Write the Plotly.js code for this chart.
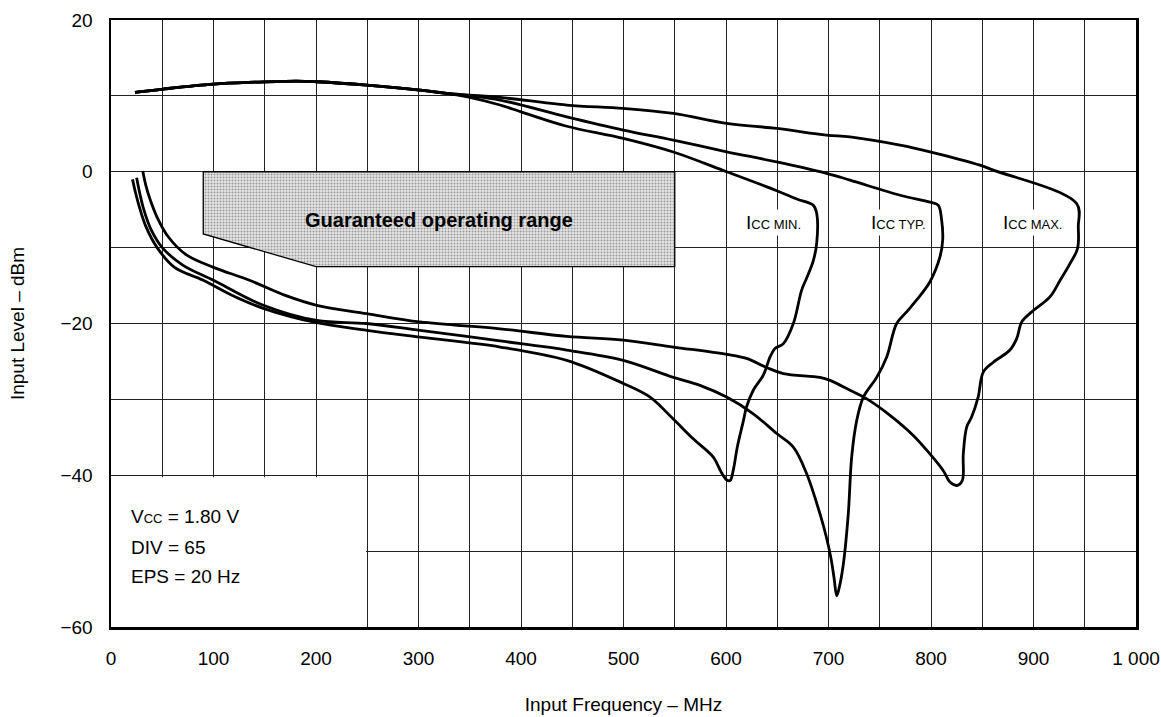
<!DOCTYPE html>
<html>
<head>
<meta charset="utf-8">
<script src="https://cdn.plot.ly/plotly-3.0.1.min.js"></script>
<style>html,body{margin:0;padding:0;background:#fff;}#chart{width:1161px;height:717px;}</style>
</head>
<body>
<div id="chart"></div>
<script>
// Shared upper branch (from 330 MHz back to start)
const upperCommonX = [327.5, 301.5, 249.5, 200.7, 181, 140, 100, 51, 23.4];
const upperCommonY = [10.33, 10.77, 11.42, 11.86, 11.95, 11.8, 11.55, 10.9, 10.46];

// ICC MIN. curve: lower branch -> dip -> right side -> upper branch (right to left)
const minX = [21, 24, 28, 34, 45, 62, 90, 120, 148.6, 200.7, 249.5, 301.5, 379.5, 444.6, 499.8, 525.9, 548.6, 568, 587.6, 595, 600.6, 604, 607, 611, 617, 620, 626.6, 636.4, 643, 647.8, 656, 665.7, 673.8, 678.7, 685.2, 688.5, 688.5, 685, 669, 649.5, 600.6, 548.6, 499.8, 444.6, 400, 379.5, 350];
const minY = [-1.0, -2.8, -4.8, -7.2, -10.0, -12.6, -14.3, -16.4, -18.0, -19.9, -20.9, -21.8, -23.1, -24.85, -27.9, -29.7, -32.6, -35.2, -37.6, -39.5, -40.6, -40.7, -39.4, -36.3, -32.8, -31.0, -28.8, -26.8, -24.4, -23.3, -22.65, -20.0, -15.6, -14.0, -11.7, -9.4, -5.5, -4.4, -3.6, -2.5, 0.0, 2.6, 4.4, 6.0, 7.9, 8.8, 9.8];

// ICC TYP. curve
const typX = [25, 28, 32, 39, 50, 70, 100, 148.6, 200.7, 249.5, 301.5, 379.5, 444.6, 499.8, 548.6, 574.6, 600.6, 626.6, 649.5, 665.7, 678.7, 691.7, 698, 702.5, 705.5, 708, 710.5, 714.5, 719.3, 722.6, 727.5, 734, 747, 756.8, 766.5, 776, 786, 799, 808.8, 811.4, 810.4, 807, 799, 769.8, 721, 698, 649.5, 600.6, 548.6, 499.8, 444.6, 379.5, 350];
const typY = [-0.8, -2.8, -5.0, -7.6, -10.0, -12.3, -14.3, -17.6, -19.6, -20.0, -20.9, -22.3, -23.5, -24.85, -27.1, -28.15, -29.7, -31.9, -34.5, -36.3, -39.8, -45.1, -48.2, -51.0, -53.6, -55.9, -54.8, -51.7, -45.1, -37.6, -32.8, -29.7, -27.1, -24.4, -20.0, -18.5, -16.9, -14.5, -11.2, -9.0, -6.4, -4.4, -4.0, -3.1, -1.1, -0.2, 1.3, 2.63, 4.17, 5.5, 7.24, 9.45, 10.0];

// ICC MAX. curve
const maxX = [31, 34, 38, 45, 56, 74, 100, 135, 170, 200.7, 249.5, 301.5, 379.5, 444.6, 499.8, 548.6, 600.6, 620, 639.7, 656, 691.7, 701.5, 721, 737, 760, 782.7, 799, 812, 818.5, 825, 830.5, 831.5, 834.8, 839.7, 846, 851, 860.8, 877, 883.6, 888.5, 898, 916, 926, 935.6, 943, 943.7, 942, 860.8, 847.8, 799, 769.8, 721, 698, 649.5, 600.6, 548.6, 499.8, 444.6, 379.5, 350];
const maxY = [0.1, -1.8, -3.6, -6.0, -8.6, -11.0, -12.6, -14.3, -16.3, -17.6, -18.7, -19.8, -20.7, -21.7, -22.2, -23.1, -24.06, -24.6, -25.8, -26.6, -27.1, -27.5, -28.8, -29.9, -32.1, -34.75, -37.2, -39.4, -40.9, -41.35, -40.7, -37.2, -33.65, -32.3, -29.7, -26.4, -25.1, -23.5, -22.0, -19.8, -18.5, -16.5, -14.3, -12.1, -10.1, -7.27, -4.18, 0.21, 0.87, 2.63, 3.51, 4.6, 4.83, 5.71, 6.37, 7.69, 8.35, 8.79, 9.8, 10.1];

// Guaranteed operating range polygon
const rangeX = [90, 550, 550, 200, 90, 90];
const rangeY = [0, 0, -12.5, -12.5, -8.2, 0];

// Axis ticks
const xGridVals = [0,50,100,150,200,250,300,350,400,450,500,550,600,650,700,750,800,850,900,950,1000];
const xTickText = ['0','','100','','200','','300','','400','','500','','600','','700','','800','','900','','1 000'];
const yGridVals = [-60,-50,-40,-30,-20,-10,0,10,20];
const yTickText = ['\u221260','','\u221240','','\u221220','','0','','20'];

// Labels
const curveLabels = ['I<span style="font-size:13px">CC MIN.</span>', 'I<span style="font-size:13px">CC TYP.</span>', 'I<span style="font-size:13px">CC MAX.</span>'];
const curveLabelX = [646, 768, 899];
const curveLabelY = [-6.7, -6.7, -6.7];
const condText = ['V<span style="font-size:13px">CC</span> = 1.80 V', 'DIV = 65', 'EPS = 20 Hz'];
const condY = [-45.4, -49.5, -53.4];

const FONT = 'Liberation Sans, Arial, Helvetica, sans-serif';
const lineStyle = {color: '#000', width: 2.8, shape: 'spline', smoothing: 1.0};

const traces = [
  {x: rangeX, y: rangeY, mode: 'lines', fill: 'toself', fillcolor: '#d4d4d4',
   fillpattern: {shape: '.', fgcolor: '#9c9c9c', bgcolor: '#e4e4e4', size: 3, solidity: 0.35},
   line: {color: '#000', width: 1.3}, hoverinfo: 'skip', showlegend: false},
  {x: minX.concat(upperCommonX), y: minY.concat(upperCommonY), mode: 'lines', line: lineStyle, showlegend: false},
  {x: typX.concat(upperCommonX), y: typY.concat(upperCommonY), mode: 'lines', line: lineStyle, showlegend: false},
  {x: maxX.concat(upperCommonX), y: maxY.concat(upperCommonY), mode: 'lines', line: lineStyle, showlegend: false}
];

const annotations = [];
curveLabels.forEach((t, i) => annotations.push({x: curveLabelX[i], y: curveLabelY[i], xref: 'x', yref: 'y', text: t, showarrow: false, bgcolor: '#fff', font: {family: FONT, size: 19, color: '#000'}, borderpad: 2}));
condText.forEach((t, i) => annotations.push({x: 18, y: condY[i], xref: 'x', yref: 'y', text: t, showarrow: false, xanchor: 'left', font: {family: FONT, size: 19, color: '#000'}}));
annotations.push({x: 320, y: -6.3, xref: 'x', yref: 'y', text: '<b>Guaranteed operating range</b>', showarrow: false, font: {family: FONT, size: 20, color: '#000'}});

const layout = {
  width: 1161, height: 717,
  margin: {l: 111, r: 25, t: 20, b: 90},
  paper_bgcolor: '#fff', plot_bgcolor: '#fff',
  font: {family: FONT, size: 19, color: '#000'},
  showlegend: false,
  xaxis: {
    range: [0, 1000], tickmode: 'array', tickvals: xGridVals, ticktext: xTickText,
    showgrid: true, gridcolor: '#222', gridwidth: 1, zeroline: false,
    showline: true, linecolor: '#000', linewidth: 2.5, mirror: true,
    ticks: 'outside', ticklen: 13, tickcolor: 'rgba(0,0,0,0)',
    tickfont: {family: FONT, size: 19, color: '#000'},
    title: {text: 'Input Frequency \u2013 MHz', font: {family: FONT, size: 19, color: '#000'}, standoff: 30}
  },
  yaxis: {
    range: [-60, 20], tickmode: 'array', tickvals: yGridVals, ticktext: yTickText,
    showgrid: true, gridcolor: '#222', gridwidth: 1, zeroline: false,
    showline: true, linecolor: '#000', linewidth: 2.5, mirror: true,
    ticks: 'outside', ticklen: 12, tickcolor: 'rgba(0,0,0,0)',
    tickfont: {family: FONT, size: 19, color: '#000'},
    title: {text: 'Input Level \u2013 dBm', font: {family: FONT, size: 19, color: '#000'}, standoff: 31}
  },
  shapes: [
    {type: 'rect', xref: 'x', yref: 'y', x0: 0, x1: 248.8, y0: -60, y1: -40.25, fillcolor: '#fff', line: {width: 0}, layer: 'between'}
  ],
  annotations: annotations
};

Plotly.newPlot('chart', traces, layout, {displayModeBar: false, staticPlot: true});
</script>
</body>
</html>
